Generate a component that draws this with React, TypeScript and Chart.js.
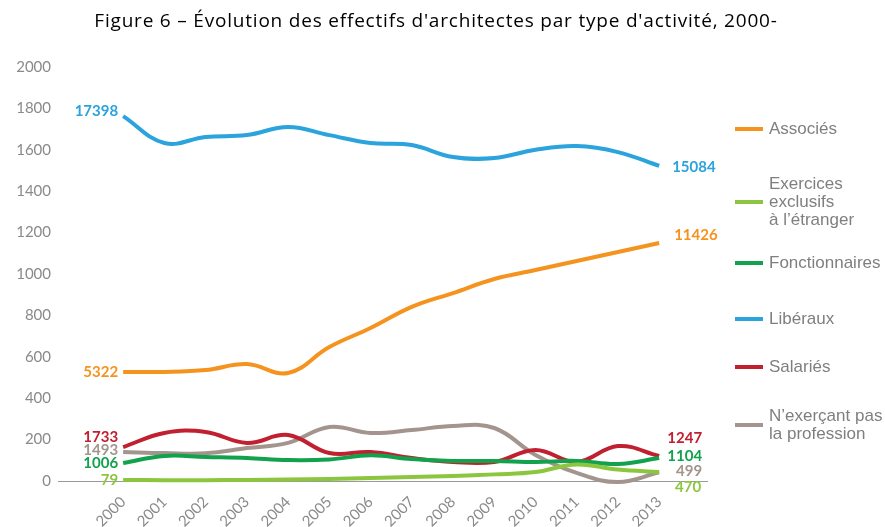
import React, { useEffect, useRef } from 'react';
import { Chart, registerables } from 'chart.js';

Chart.register(...registerables);

const years = [2000, 2001, 2002, 2003, 2004, 2005, 2006, 2007, 2008, 2009, 2010, 2011, 2012, 2013];

const associes = [527, 527, 536, 565, 522, 647, 739, 841, 908, 976, 1019, 1063, 1106, 1150];
const exercicesEtranger = [5, 4, 4, 5, 7, 10, 14, 19, 24, 32, 43, 80, 55, 43];
const fonctionnaires = [87, 121, 116, 111, 101, 104, 124, 106, 97, 97, 92, 97, 82, 111];
const liberaux = [1763, 1633, 1662, 1671, 1710, 1671, 1633, 1623, 1565, 1560, 1600, 1618, 1589, 1522];
const salaries = [164, 232, 237, 184, 222, 135, 140, 111, 92, 92, 150, 92, 169, 121];
const nExercantPas = [140, 135, 134, 159, 184, 261, 232, 246, 266, 256, 126, 39, -5, 42];

const seriesNames = [
  'Associés',
  'Exercices\nexclusifs\nà l’étranger',
  'Fonctionnaires',
  'Libéraux',
  'Salariés',
  'N’exerçant pas\nla profession',
];
const startLabels = ['5322', '79', '1006', '17398', '1733', '1493'];
const endLabels = ['11426', '470', '1104', '15084', '1247', '499'];

const yMin = 0;
const yMax = 2000;
const yStep = 200;

const titleText = "Figure 6 – Évolution des effectifs d'architectes par type d'activité, 2000-";

const colors = ['#f5931f', '#8cc63f', '#12a24d', '#2ba3dd', '#c0202f', '#a3958e'];

// label placement styles (pixel offsets)
const startDy = [0, 0, 0, -5, -10, -2];
const endStyle = [
  { align: 'left', dx: 15, dy: -8 },
  { align: 'right', dx: 42, dy: 15 },
  { align: 'right', dx: 43, dy: -2 },
  { align: 'left', dx: 13, dy: 1 },
  { align: 'right', dx: 43, dy: -18 },
  { align: 'right', dx: 43, dy: -1 },
];
const legendY = [129, 202, 263, 319, 367, 425];

const annotatePlugin = {
  id: 'annotate',
  afterDatasetsDraw(chart: any) {
    const ctx = chart.ctx;
    chart.data.datasets.forEach((ds: any, i: number) => {
      const meta = chart.getDatasetMeta(i);
      const first = meta.data[0];
      const last = meta.data[meta.data.length - 1];
      ctx.save();
      ctx.font = 'bold 15px Lato';
      ctx.fillStyle = ds.borderColor;
      ctx.textBaseline = 'middle';
      ctx.textAlign = 'right';
      ctx.fillText(startLabels[i], first.x - 5, first.y + startDy[i]);
      const es = endStyle[i];
      ctx.textAlign = es.align;
      ctx.fillText(endLabels[i], last.x + es.dx, last.y + es.dy);
      ctx.restore();
    });
  },
  afterDraw(chart: any) {
    const ctx = chart.ctx;
    const area = chart.chartArea;
    ctx.save();
    // title
    ctx.font = '19px "Open Sans"';
    try { (ctx as any).letterSpacing = '0.8px'; } catch (e) {}
    ctx.fillStyle = '#000';
    ctx.textAlign = 'center';
    ctx.textBaseline = 'middle';
    ctx.fillText(titleText, 436, 22);
    try { (ctx as any).letterSpacing = '0px'; } catch (e) {}
    // legend
    const sx = area.right + 28;
    chart.data.datasets.forEach((ds: any, i: number) => {
      const y = legendY[i];
      ctx.strokeStyle = ds.borderColor;
      ctx.lineWidth = 4;
      ctx.beginPath();
      ctx.moveTo(sx, y);
      ctx.lineTo(sx + 28, y);
      ctx.stroke();
      const lines = String(ds.label).split('\n');
      ctx.font = '17px "Liberation Sans"';
      ctx.fillStyle = '#7f7f7f';
      ctx.textAlign = 'left';
      ctx.textBaseline = 'middle';
      const lh = 18;
      lines.forEach((ln, k) => {
        ctx.fillText(ln, sx + 34, y - ((lines.length - 1) * lh) / 2 + k * lh);
      });
    });
    ctx.restore();
  },
};

export default function App() {
  const ref = useRef<HTMLCanvasElement | null>(null);
  useEffect(() => {
    document.body.style.margin = '0';
    const canvas = ref.current!;
    const series = [associes, exercicesEtranger, fonctionnaires, liberaux, salaries, nExercantPas];
    const chart = new Chart(canvas, {
      type: 'line',
      data: {
        datasets: series.map((s, i) => ({
          label: seriesNames[i],
          data: s.map((v, k) => ({ x: years[k], y: v })),
          borderColor: colors[i],
          backgroundColor: colors[i],
          borderWidth: 4,
          pointRadius: 0,
          tension: 0.4,
          fill: false,
          clip: false,
        })),
      },
      options: {
        animation: false,
        responsive: false,
        devicePixelRatio: 1,
        layout: { padding: { top: 67, right: 178, left: 0, bottom: 0 } },
        plugins: { legend: { display: false }, title: { display: false }, tooltip: { enabled: false } },
        scales: {
          x: {
            type: 'linear',
            min: 1998.42,
            max: 2014.16,
            afterBuildTicks: (scale: any) => {
              scale.ticks = years.map((v) => ({ value: v }));
            },
            afterFit: (scale: any) => {
              scale.height = 46;
            },
            grid: { display: false, drawTicks: false },
            border: { display: true, color: '#9a9a9a', width: 1 },
            ticks: {
              autoSkip: false,
              maxRotation: 45,
              minRotation: 45,
              padding: 12,
              color: '#8a8a8a',
              font: { family: 'Lato', size: 15 },
              callback: (v: any) => String(v),
            },
          },
          y: {
            type: 'linear',
            min: yMin,
            max: yMax,
            afterFit: (scale: any) => {
              scale.width = 58;
            },
            grid: { display: false, drawTicks: false },
            border: { display: false },
            ticks: {
              stepSize: yStep,
              padding: 7,
              color: '#8a8a8a',
              font: { family: 'Lato', size: 15 },
              callback: (v: any) => String(v),
            },
          },
        },
      },
      plugins: [annotatePlugin],
    } as any);
    return () => chart.destroy();
  }, []);
  return <canvas ref={ref} width={885} height={527} style={{ display: 'block', width: 885, height: 527 }} />;
}
